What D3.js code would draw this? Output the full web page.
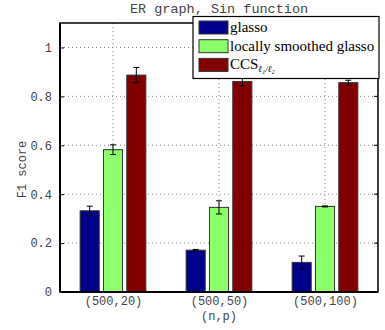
<!DOCTYPE html>
<html>
<head>
<meta charset="utf-8">
<script src="https://cdn.jsdelivr.net/npm/d3@7"></script>
<style>
  html, body { margin: 0; padding: 0; background: #fff; }
  svg { display: block; }
</style>
</head>
<body>
<svg id="chart" width="385" height="330"></svg>
<script>
// F1 scores for three methods on an ER graph with sinusoidal variation
const categories = ["(500,20)", "(500,50)", "(500,100)"];
const seriesNames = ["glasso", "locally smoothed glasso", "CCS"];
const seriesColors = ["#00008b", "#8cff6a", "#800000"];
const glassoVals = [0.332, 0.171, 0.121];
const glassoErr = [0.019, 0.003, 0.026];
const smoothVals = [0.582, 0.346, 0.350];
const smoothErr = [0.020, 0.027, 0.002];
const ccsVals = [0.887, 0.861, 0.856];
const ccsErr = [0.031, 0.018, 0.010];
const yTicks = [0, 0.2, 0.4, 0.6, 0.8, 1];
const yTickLabels = ["0", "0.2", "0.4", "0.6", "0.8", "1"];

const series = [
  { vals: glassoVals, err: glassoErr },
  { vals: smoothVals, err: smoothErr },
  { vals: ccsVals, err: ccsErr }
];

const svg = d3.select("#chart");
const plotLeft = 60, plotRight = 378, plotTop = 23, plotBottom = 292;
const mono = "'Liberation Mono', 'DejaVu Sans Mono', monospace";
const serif = "'Liberation Serif', 'DejaVu Serif', serif";

const x = d3.scaleLinear().domain([0.5, 3.5]).range([plotLeft, plotRight]);
const y = d3.scaleLinear().domain([0, 1.1]).range([plotBottom, plotTop]);
const barW = 0.18;
const offsets = [-0.22, 0, 0.22];

// dotted grid
const grid = svg.append("g");
yTicks.slice(1).forEach(t => {
  grid.append("line")
    .attr("x1", plotLeft).attr("x2", plotRight)
    .attr("y1", y(t)).attr("y2", y(t))
    .attr("stroke", "#888").attr("stroke-width", 1)
    .attr("stroke-dasharray", "1,3");
});
categories.forEach((c, i) => {
  grid.append("line")
    .attr("x1", x(i + 1)).attr("x2", x(i + 1))
    .attr("y1", plotTop).attr("y2", plotBottom)
    .attr("stroke", "#888").attr("stroke-width", 1)
    .attr("stroke-dasharray", "1,3");
});

// bars
series.forEach((s, si) => {
  const g = svg.append("g");
  g.selectAll("rect").data(s.vals).enter().append("rect")
    .attr("x", (d, i) => x(i + 1 + offsets[si] - barW / 2))
    .attr("width", x(barW) - x(0))
    .attr("y", d => y(d))
    .attr("height", d => y(0) - y(d))
    .attr("fill", seriesColors[si])
    .attr("stroke", "#333").attr("stroke-width", 1);
  // error bars
  s.vals.forEach((v, i) => {
    const cx = x(i + 1 + offsets[si]);
    const e = s.err[i];
    const eg = g.append("g").attr("stroke", "#000").attr("stroke-width", 1);
    eg.append("line").attr("x1", cx).attr("x2", cx).attr("y1", y(v + e)).attr("y2", y(v - e));
    eg.append("line").attr("x1", cx - 3).attr("x2", cx + 3).attr("y1", y(v + e)).attr("y2", y(v + e));
    eg.append("line").attr("x1", cx - 3).attr("x2", cx + 3).attr("y1", y(v - e)).attr("y2", y(v - e));
  });
});

// axes frame
svg.append("rect")
  .attr("x", plotLeft).attr("y", plotTop)
  .attr("width", plotRight - plotLeft).attr("height", plotBottom - plotTop)
  .attr("fill", "none").attr("stroke", "#000").attr("stroke-width", 1.5);
svg.append("line").attr("x1", plotLeft).attr("x2", plotRight).attr("y1", plotBottom).attr("y2", plotBottom)
  .attr("stroke", "#000").attr("stroke-width", 2);
svg.append("line").attr("x1", plotLeft).attr("x2", plotLeft).attr("y1", plotTop).attr("y2", plotBottom)
  .attr("stroke", "#000").attr("stroke-width", 2);

// y axis
const yAxis = d3.axisLeft(y).tickValues(yTicks)
  .tickFormat((d, i) => yTickLabels[i]).tickSize(-4).tickPadding(8);
const yg = svg.append("g").attr("transform", `translate(${plotLeft},0)`).call(yAxis);
yg.select(".domain").remove();
yg.selectAll("text").attr("font-family", mono).attr("font-size", 12).attr("fill", "#444");
yg.selectAll("line").attr("stroke", "#000");
// right-side ticks
yTicks.forEach(t => {
  svg.append("line").attr("x1", plotRight).attr("x2", plotRight - 4)
    .attr("y1", y(t)).attr("y2", y(t)).attr("stroke", "#000");
});

// x axis labels
const xAxis = d3.axisBottom(x).tickValues([1, 2, 3])
  .tickFormat((d, i) => categories[i]).tickSize(0).tickPadding(4);
const xg = svg.append("g").attr("transform", `translate(0,${plotBottom})`).call(xAxis);
xg.select(".domain").remove();
xg.selectAll("text").attr("font-family", mono).attr("font-size", 12).attr("fill", "#444");

// axis titles
svg.append("text").attr("x", x(2)).attr("y", 320)
  .attr("text-anchor", "middle").attr("font-family", mono).attr("font-size", 12)
  .attr("fill", "#444").text("(n,p)");
svg.append("text")
  .attr("transform", `translate(26,${(plotTop + plotBottom) / 2 + 12}) rotate(-90)`)
  .attr("text-anchor", "middle").attr("font-family", mono).attr("font-size", 12)
  .attr("fill", "#444").text("F1 score");

// title
svg.append("text").attr("x", x(2)).attr("y", 13)
  .attr("text-anchor", "middle").attr("font-family", mono).attr("font-size", 13.5)
  .attr("fill", "#444").text("ER graph, Sin function");

// legend
const lg = svg.append("g");
lg.append("rect").attr("x", 193).attr("y", 16.5).attr("width", 186).attr("height", 62)
  .attr("fill", "#fff").attr("stroke", "#000").attr("stroke-width", 1.2);
seriesNames.forEach((n, i) => {
  const ry = 21 + i * 18.7;
  lg.append("rect").attr("x", 199).attr("y", ry).attr("width", 29).attr("height", 13)
    .attr("fill", seriesColors[i]).attr("stroke", "#333").attr("stroke-width", 1);
  const t = lg.append("text").attr("x", 230).attr("y", ry + 11)
    .attr("font-family", serif).attr("font-size", 15).attr("fill", "#000");
  t.append("tspan").text(n);
  if (i === 2) {
    t.append("tspan").attr("dy", 3).attr("font-size", 9).attr("font-style", "italic").text("ℓ₁/ℓ₂");
  }
});
</script>
</body>
</html>
